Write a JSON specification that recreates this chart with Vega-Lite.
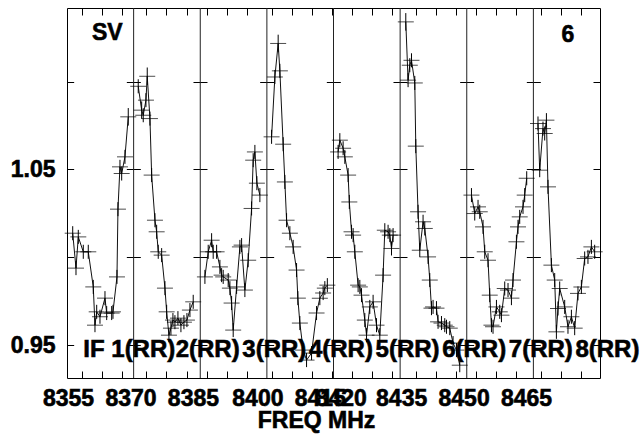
{
 "$schema": "https://vega.github.io/schema/vega-lite/v6.json",
 "width": 533, "height": 370,
 "autosize": "none",
 "padding": {"left": 67, "top": 8, "right": 41, "bottom": 56},
 "background": "white",
 "config": {"view": {"stroke": "black", "strokeWidth": 1}, "font": "Liberation Sans", "axis": {"domain": false, "grid": false},
  "style": {"guide-label": {"stroke": "black", "strokeWidth": 0.6}, "guide-title": {"stroke": "black", "strokeWidth": 0.6}}},
 "datasets": {
  "ifs": [{"f": 8371}, {"f": 8387}, {"f": 8403}, {"f": 8419}, {"f": 8435}, {"f": 8451}, {"f": 8467}],
  "txt": [
   {"t": "SV", "f": 8361.0, "v": 1.1236, "s": 23},
   {"t": "6", "f": 8473.73, "v": 1.1227, "s": 23},
   {"t": "IF 1(RR)", "f": 8358.91, "v": 0.9433, "s": 24},
   {"t": "2(RR)", "f": 8381.1, "v": 0.9433, "s": 24},
   {"t": "3(RR)", "f": 8397.1, "v": 0.9433, "s": 24},
   {"t": "4(RR)", "f": 8413.1, "v": 0.9433, "s": 24},
   {"t": "5(RR)", "f": 8429.1, "v": 0.9433, "s": 24},
   {"t": "6(RR)", "f": 8445.1, "v": 0.9433, "s": 24},
   {"t": "7(RR)", "f": 8461.1, "v": 0.9433, "s": 24},
   {"t": "8(RR)", "f": 8477.1, "v": 0.9433, "s": 24}
  ],
  "pts": [
   {"i": 1, "f": 8356.37, "v": 1.0137, "e": 0.004},
   {"i": 1, "f": 8357.16, "v": 0.9938, "e": 0.004},
   {"i": 1, "f": 8357.71, "v": 1.0116, "e": 0.004},
   {"i": 1, "f": 8358.91, "v": 1.0031, "e": 0.004},
   {"i": 1, "f": 8360.11, "v": 1.0031, "e": 0.004},
   {"i": 1, "f": 8361.31, "v": 0.9831, "e": 0.004},
   {"i": 1, "f": 8361.72, "v": 0.9613, "e": 0.004},
   {"i": 1, "f": 8362.13, "v": 0.9689, "e": 0.004},
   {"i": 1, "f": 8362.92, "v": 0.9661, "e": 0.004},
   {"i": 1, "f": 8364.12, "v": 0.9767, "e": 0.004},
   {"i": 1, "f": 8364.53, "v": 0.9682, "e": 0.004},
   {"i": 1, "f": 8365.73, "v": 0.9682, "e": 0.004},
   {"i": 1, "f": 8366.04, "v": 0.9689, "e": 0.004},
   {"i": 1, "f": 8367.0, "v": 0.9888, "e": 0.004},
   {"i": 1, "f": 8367.24, "v": 1.0274, "e": 0.004},
   {"i": 1, "f": 8367.72, "v": 1.0515, "e": 0.004},
   {"i": 1, "f": 8368.13, "v": 1.0477, "e": 0.004},
   {"i": 1, "f": 8368.92, "v": 1.0572, "e": 0.004},
   {"i": 1, "f": 8369.71, "v": 1.08, "e": 0.005},
   {"i": 2, "f": 8372.11, "v": 1.0974, "e": 0.004},
   {"i": 2, "f": 8372.93, "v": 1.0838, "e": 0.005},
   {"i": 2, "f": 8373.31, "v": 1.0809, "e": 0.004},
   {"i": 2, "f": 8373.96, "v": 1.0895, "e": 0.004},
   {"i": 2, "f": 8374.27, "v": 1.1031, "e": 0.005},
   {"i": 2, "f": 8374.92, "v": 1.079, "e": 0.004},
   {"i": 2, "f": 8375.33, "v": 1.0468, "e": 0.004},
   {"i": 2, "f": 8376.12, "v": 1.0211, "e": 0.004},
   {"i": 2, "f": 8376.53, "v": 1.0145, "e": 0.004},
   {"i": 2, "f": 8376.91, "v": 1.0031, "e": 0.004},
   {"i": 2, "f": 8377.73, "v": 1.0012, "e": 0.004},
   {"i": 2, "f": 8378.52, "v": 0.9824, "e": 0.004},
   {"i": 2, "f": 8378.93, "v": 0.9689, "e": 0.004},
   {"i": 2, "f": 8379.48, "v": 0.9556, "e": 0.004},
   {"i": 2, "f": 8379.96, "v": 0.9596, "e": 0.004},
   {"i": 2, "f": 8380.44, "v": 0.9642, "e": 0.004},
   {"i": 2, "f": 8380.92, "v": 0.963, "e": 0.004},
   {"i": 2, "f": 8381.64, "v": 0.9653, "e": 0.004},
   {"i": 2, "f": 8382.36, "v": 0.9613, "e": 0.004},
   {"i": 2, "f": 8383.08, "v": 0.963, "e": 0.004},
   {"i": 2, "f": 8383.8, "v": 0.9642, "e": 0.004},
   {"i": 2, "f": 8384.52, "v": 0.9699, "e": 0.004},
   {"i": 2, "f": 8385.31, "v": 0.9746, "e": 0.004},
   {"i": 3, "f": 8388.12, "v": 0.9888, "e": 0.004},
   {"i": 3, "f": 8388.91, "v": 1.0031, "e": 0.004},
   {"i": 3, "f": 8389.73, "v": 1.0097, "e": 0.004},
   {"i": 3, "f": 8390.11, "v": 1.0031, "e": 0.004},
   {"i": 3, "f": 8390.93, "v": 1.0031, "e": 0.004},
   {"i": 3, "f": 8391.72, "v": 0.9945, "e": 0.004},
   {"i": 3, "f": 8392.13, "v": 0.9898, "e": 0.004},
   {"i": 3, "f": 8392.51, "v": 0.9888, "e": 0.004},
   {"i": 3, "f": 8393.71, "v": 0.987, "e": 0.004},
   {"i": 3, "f": 8394.12, "v": 0.9824, "e": 0.004},
   {"i": 3, "f": 8394.53, "v": 0.9739, "e": 0.004},
   {"i": 3, "f": 8394.91, "v": 0.9585, "e": 0.004},
   {"i": 3, "f": 8395.73, "v": 0.9831, "e": 0.004},
   {"i": 3, "f": 8396.52, "v": 1.0059, "e": 0.004},
   {"i": 3, "f": 8396.93, "v": 1.0069, "e": 0.004},
   {"i": 3, "f": 8397.72, "v": 0.9813, "e": 0.004},
   {"i": 3, "f": 8398.51, "v": 0.9983, "e": 0.004},
   {"i": 3, "f": 8399.33, "v": 1.0278, "e": 0.004},
   {"i": 3, "f": 8399.71, "v": 1.0553, "e": 0.004},
   {"i": 3, "f": 8400.12, "v": 1.06, "e": 0.004},
   {"i": 3, "f": 8400.6, "v": 1.0422, "e": 0.004},
   {"i": 3, "f": 8401.32, "v": 1.0354, "e": 0.004},
   {"i": 4, "f": 8404.13, "v": 1.0686, "e": 0.004},
   {"i": 4, "f": 8404.92, "v": 1.1027, "e": 0.004},
   {"i": 4, "f": 8405.71, "v": 1.1218, "e": 0.005},
   {"i": 4, "f": 8406.12, "v": 1.1062, "e": 0.004},
   {"i": 4, "f": 8406.91, "v": 1.0644, "e": 0.004},
   {"i": 4, "f": 8407.32, "v": 1.0429, "e": 0.004},
   {"i": 4, "f": 8407.73, "v": 1.0211, "e": 0.004},
   {"i": 4, "f": 8408.52, "v": 1.0137, "e": 0.004},
   {"i": 4, "f": 8409.31, "v": 1.0059, "e": 0.004},
   {"i": 4, "f": 8410.13, "v": 0.9927, "e": 0.004},
   {"i": 4, "f": 8410.44, "v": 0.9767, "e": 0.004},
   {"i": 4, "f": 8410.92, "v": 0.9625, "e": 0.004},
   {"i": 4, "f": 8411.71, "v": 0.9471, "e": 0.004},
   {"i": 4, "f": 8412.53, "v": 0.9414, "e": 0.004},
   {"i": 4, "f": 8413.73, "v": 0.9454, "e": 0.004},
   {"i": 4, "f": 8414.93, "v": 0.9682, "e": 0.004},
   {"i": 4, "f": 8415.72, "v": 0.9767, "e": 0.004},
   {"i": 4, "f": 8416.51, "v": 0.9796, "e": 0.004},
   {"i": 4, "f": 8416.92, "v": 0.9824, "e": 0.004},
   {"i": 4, "f": 8417.52, "v": 0.9841, "e": 0.004},
   {"i": 5, "f": 8420.11, "v": 1.06, "e": 0.004},
   {"i": 5, "f": 8420.52, "v": 1.0667, "e": 0.004},
   {"i": 5, "f": 8421.31, "v": 1.0621, "e": 0.004},
   {"i": 5, "f": 8421.72, "v": 1.0572, "e": 0.004},
   {"i": 5, "f": 8422.51, "v": 1.0468, "e": 0.004},
   {"i": 5, "f": 8422.8, "v": 1.0315, "e": 0.004},
   {"i": 5, "f": 8423.33, "v": 1.0145, "e": 0.004},
   {"i": 5, "f": 8423.71, "v": 1.0126, "e": 0.004},
   {"i": 5, "f": 8424.12, "v": 1.0031, "e": 0.004},
   {"i": 5, "f": 8424.91, "v": 0.9841, "e": 0.004},
   {"i": 5, "f": 8425.32, "v": 0.9831, "e": 0.004},
   {"i": 5, "f": 8425.73, "v": 0.9784, "e": 0.004},
   {"i": 5, "f": 8426.52, "v": 0.9642, "e": 0.004},
   {"i": 5, "f": 8426.93, "v": 0.9556, "e": 0.004},
   {"i": 5, "f": 8427.72, "v": 0.9717, "e": 0.004},
   {"i": 5, "f": 8428.51, "v": 0.9746, "e": 0.004},
   {"i": 5, "f": 8429.33, "v": 0.9613, "e": 0.004},
   {"i": 5, "f": 8430.12, "v": 0.9556, "e": 0.004},
   {"i": 5, "f": 8430.91, "v": 0.9898, "e": 0.004},
   {"i": 5, "f": 8431.32, "v": 1.0154, "e": 0.004},
   {"i": 5, "f": 8432.11, "v": 1.0145, "e": 0.004},
   {"i": 5, "f": 8432.52, "v": 1.0126, "e": 0.004},
   {"i": 5, "f": 8432.93, "v": 1.005, "e": 0.004},
   {"i": 5, "f": 8433.31, "v": 1.0126, "e": 0.004},
   {"i": 6, "f": 8436.36, "v": 1.1341, "e": 0.005},
   {"i": 6, "f": 8436.91, "v": 1.1009, "e": 0.004},
   {"i": 6, "f": 8437.32, "v": 1.1094, "e": 0.004},
   {"i": 6, "f": 8437.73, "v": 1.1122, "e": 0.004},
   {"i": 6, "f": 8438.52, "v": 1.0993, "e": 0.004},
   {"i": 6, "f": 8438.76, "v": 1.0633, "e": 0.004},
   {"i": 6, "f": 8439.31, "v": 1.0259, "e": 0.004},
   {"i": 6, "f": 8439.72, "v": 1.004, "e": 0.004},
   {"i": 6, "f": 8440.51, "v": 1.0202, "e": 0.004},
   {"i": 6, "f": 8440.92, "v": 1.0164, "e": 0.004},
   {"i": 6, "f": 8441.71, "v": 1.0002, "e": 0.004},
   {"i": 6, "f": 8442.12, "v": 0.987, "e": 0.004},
   {"i": 6, "f": 8442.53, "v": 0.971, "e": 0.004},
   {"i": 6, "f": 8442.91, "v": 0.9717, "e": 0.004},
   {"i": 6, "f": 8443.73, "v": 0.971, "e": 0.004},
   {"i": 6, "f": 8444.11, "v": 0.9632, "e": 0.004},
   {"i": 6, "f": 8444.93, "v": 0.9625, "e": 0.004},
   {"i": 6, "f": 8445.72, "v": 0.9613, "e": 0.004},
   {"i": 6, "f": 8446.13, "v": 0.9604, "e": 0.004},
   {"i": 6, "f": 8446.92, "v": 0.9596, "e": 0.004},
   {"i": 6, "f": 8447.71, "v": 0.9511, "e": 0.004},
   {"i": 6, "f": 8448.53, "v": 0.9471, "e": 0.004},
   {"i": 6, "f": 8449.32, "v": 0.9385, "e": 0.004},
   {"i": 7, "f": 8452.13, "v": 1.0354, "e": 0.004},
   {"i": 7, "f": 8452.92, "v": 1.0249, "e": 0.004},
   {"i": 7, "f": 8453.71, "v": 1.0287, "e": 0.004},
   {"i": 7, "f": 8454.12, "v": 1.0259, "e": 0.004},
   {"i": 7, "f": 8454.91, "v": 1.0173, "e": 0.004},
   {"i": 7, "f": 8455.32, "v": 1.0031, "e": 0.004},
   {"i": 7, "f": 8456.11, "v": 0.9983, "e": 0.004},
   {"i": 7, "f": 8456.52, "v": 0.9784, "e": 0.004},
   {"i": 7, "f": 8456.93, "v": 0.9613, "e": 0.004},
   {"i": 7, "f": 8457.31, "v": 0.9604, "e": 0.004},
   {"i": 7, "f": 8458.13, "v": 0.9717, "e": 0.004},
   {"i": 7, "f": 8458.92, "v": 0.9689, "e": 0.004},
   {"i": 7, "f": 8459.33, "v": 0.967, "e": 0.004},
   {"i": 7, "f": 8460.12, "v": 0.9822, "e": 0.004},
   {"i": 7, "f": 8460.91, "v": 0.9813, "e": 0.004},
   {"i": 7, "f": 8461.73, "v": 0.9767, "e": 0.004},
   {"i": 7, "f": 8462.11, "v": 0.987, "e": 0.004},
   {"i": 7, "f": 8462.93, "v": 1.0088, "e": 0.004},
   {"i": 7, "f": 8463.31, "v": 1.0173, "e": 0.004},
   {"i": 7, "f": 8463.72, "v": 1.023, "e": 0.004},
   {"i": 7, "f": 8464.51, "v": 1.0287, "e": 0.004},
   {"i": 7, "f": 8464.92, "v": 1.0354, "e": 0.004},
   {"i": 7, "f": 8465.4, "v": 1.045, "e": 0.004},
   {"i": 8, "f": 8468.11, "v": 1.0762, "e": 0.004},
   {"i": 8, "f": 8468.52, "v": 1.0496, "e": 0.004},
   {"i": 8, "f": 8469.31, "v": 1.0733, "e": 0.004},
   {"i": 8, "f": 8469.72, "v": 1.0705, "e": 0.004},
   {"i": 8, "f": 8470.13, "v": 1.0781, "e": 0.004},
   {"i": 8, "f": 8470.51, "v": 1.0401, "e": 0.004},
   {"i": 8, "f": 8471.33, "v": 0.9955, "e": 0.004},
   {"i": 8, "f": 8472.12, "v": 0.987, "e": 0.004},
   {"i": 8, "f": 8472.53, "v": 0.9575, "e": 0.004},
   {"i": 8, "f": 8472.91, "v": 0.9708, "e": 0.004},
   {"i": 8, "f": 8473.32, "v": 0.9822, "e": 0.004},
   {"i": 8, "f": 8474.52, "v": 0.9717, "e": 0.004},
   {"i": 8, "f": 8475.31, "v": 0.9604, "e": 0.004},
   {"i": 8, "f": 8476.13, "v": 0.9661, "e": 0.004},
   {"i": 8, "f": 8476.92, "v": 0.9596, "e": 0.004},
   {"i": 8, "f": 8477.71, "v": 0.9794, "e": 0.004},
   {"i": 8, "f": 8478.53, "v": 0.9831, "e": 0.004},
   {"i": 8, "f": 8479.32, "v": 0.9993, "e": 0.004},
   {"i": 8, "f": 8480.11, "v": 1.0002, "e": 0.004},
   {"i": 8, "f": 8480.93, "v": 1.0059, "e": 0.004},
   {"i": 8, "f": 8481.72, "v": 1.0031, "e": 0.004}
  ]
 },
 "resolve": {"axis": {"x": "independent", "y": "independent"}},
 "layer": [
  {
   "data": {"name": "ifs"},
   "mark": {"type": "rule", "color": "#222222", "strokeWidth": 1},
   "encoding": {
    "x": {"field": "f", "type": "quantitative", "scale": {"domain": [8355, 8483], "nice": false, "zero": false}, "axis": null}
   }
  },
  {
   "data": {"name": "pts"},
   "mark": {"type": "line", "color": "#111111", "strokeWidth": 1},
   "encoding": {
    "x": {"field": "f", "type": "quantitative", "scale": {"domain": [8355, 8483], "nice": false, "zero": false},
     "axis": {"orient": "bottom", "values": [8355, 8370, 8385, 8400, 8415, 8420, 8435, 8450, 8465], "format": "d",
      "labelFont": "Liberation Sans", "labelFontSize": 23, "labelFontWeight": "bold", "labelColor": "black",
      "labelBaseline": "alphabetic", "labelPadding": 27, "ticks": false, "tickSize": 0, "domain": false, "grid": false,
      "labelOverlap": false, "labelFlush": false, "labelBound": false,
      "labelOffset": {"condition": {"test": "datum.value >= 8400 && datum.value <= 8420", "value": 3}, "value": 1},
      "title": "FREQ MHz", "titleFont": "Liberation Sans", "titleFontSize": 23, "titleFontWeight": "bold", "titleColor": "black",
      "titleX": 249, "titleY": 49, "titleAlign": "center", "titleBaseline": "alphabetic"}},
    "y": {"field": "v", "type": "quantitative", "scale": {"domain": [0.9312, 1.142], "nice": false, "zero": false},
     "axis": {"orient": "left", "values": [0.95, 1.05], "format": ".2f", "labelFont": "Liberation Sans", "labelFontSize": 23,
      "labelFontWeight": "bold", "labelColor": "black", "labelPadding": 12, "ticks": false, "tickSize": 0, "domain": false,
      "grid": false, "title": null, "labelFlush": false, "labelOverlap": false, "labelBaseline": "middle"}},
    "detail": {"field": "i", "type": "nominal"}
   }
  },
  {
   "data": {"name": "pts"},
   "mark": {"type": "tick", "orient": "horizontal", "size": 16, "thickness": 1, "color": "black"},
   "encoding": {
    "x": {"field": "f", "type": "quantitative", "scale": {"domain": [8355, 8483], "nice": false, "zero": false},
     "axis": {"orient": "top", "values": [8358.53, 8363.33, 8368.13, 8373.96, 8378.76, 8383.73, 8388.53, 8393.33, 8398.13, 8404.13, 8408.93, 8413.73, 8418.53, 8423.33, 8428.13, 8432.93, 8438.76, 8443.56, 8448.53, 8453.33, 8458.13, 8462.93, 8468.93, 8473.73, 8478.53],
      "labels": false, "ticks": false, "domain": false, "grid": true, "gridColor": "black", "gridWidth": 1, "gridOpacity": 1, "gridDash": [7, 356], "title": null}},
    "y": {"field": "v", "type": "quantitative", "scale": {"domain": [0.9312, 1.142], "nice": false, "zero": false},
     "axis": {"orient": "right", "values": [0.95, 1.0, 1.05, 1.1], "labels": false, "ticks": false, "domain": false, "grid": true,
      "gridColor": "black", "gridWidth": 1, "gridOpacity": 1, "gridDash": [14, 52.667], "gridDashOffset": 7, "title": null}}
   }
  },
  {
   "data": {"name": "pts"},
   "mark": {"type": "errorbar", "color": "black", "thickness": 1},
   "encoding": {
    "x": {"field": "f", "type": "quantitative", "scale": {"domain": [8355, 8483], "nice": false, "zero": false}, "axis": null},
    "y": {"field": "v", "type": "quantitative", "scale": {"domain": [0.9312, 1.142], "nice": false, "zero": false}, "axis": null},
    "yError": {"field": "e"}
   }
  },
  {
   "data": {"name": "txt"},
   "mark": {"type": "text", "align": "left", "baseline": "alphabetic", "fontWeight": "bold", "font": "Liberation Sans", "color": "black", "stroke": "black", "strokeWidth": 0.6},
   "encoding": {
    "x": {"field": "f", "type": "quantitative", "scale": {"domain": [8355, 8483], "nice": false, "zero": false}, "axis": null},
    "y": {"field": "v", "type": "quantitative", "scale": {"domain": [0.9312, 1.142], "nice": false, "zero": false}, "axis": null},
    "text": {"field": "t"},
    "size": {"field": "s", "type": "quantitative", "scale": null}
   }
  }
 ]
}
